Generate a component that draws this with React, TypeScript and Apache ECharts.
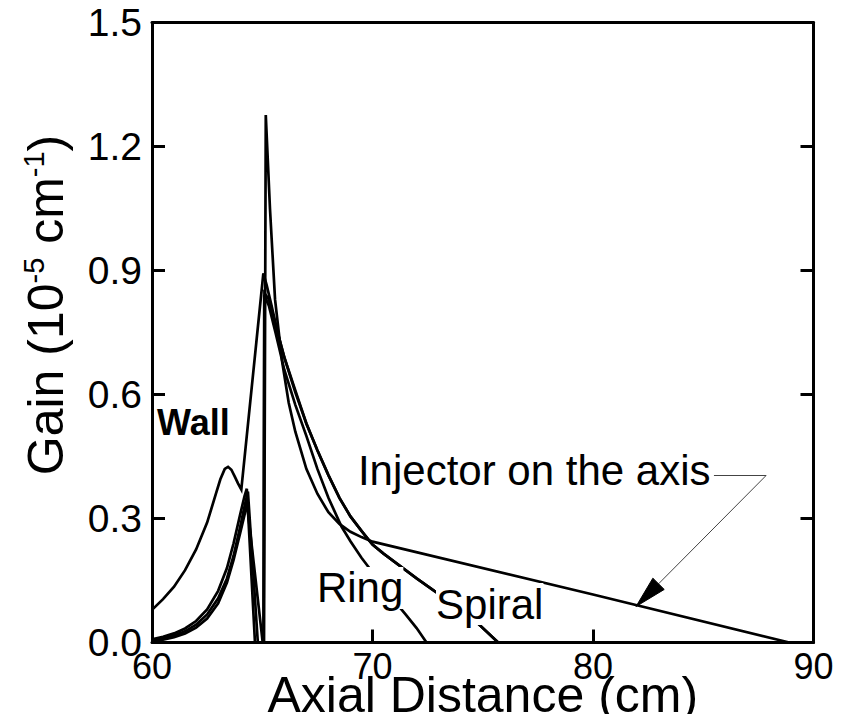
import React, { useEffect, useRef } from "react";
import * as echarts from "echarts";

// ---- data ----
const xTicks = [60, 70, 80, 90];
const yTicks = [0, 0.3, 0.6, 0.9, 1.2, 1.5];

const wallCurve: [number, number][] = [
  [60, 0.079], [60.5, 0.105], [61, 0.135], [61.5, 0.175], [62, 0.225], [62.5, 0.29],
  [62.9, 0.36], [63.1, 0.395], [63.3, 0.42], [63.45, 0.425], [63.6, 0.418], [63.75, 0.402],
  [63.9, 0.385], [64.05, 0.37], [65.05, 0.893], [65.2, 0.865], [65.4, 0.82], [65.7, 0.75],
  [66, 0.69], [66.5, 0.605], [67, 0.53], [67.5, 0.465], [68, 0.405], [68.5, 0.35],
  [69, 0.305], [69.5, 0.27], [70, 0.237], [70.5, 0.215], [71, 0.195], [72, 0.155],
  [72.8, 0.125], [73.5, 0.1], [74, 0.08], [74.7, 0.05], [75.7, 0],
];

const ringCurve: [number, number][] = [
  [60, 0.008], [60.5, 0.014], [61, 0.022], [61.5, 0.034], [62, 0.052], [62.5, 0.08],
  [63, 0.125], [63.4, 0.18], [63.7, 0.24], [64.0, 0.31], [64.2, 0.355], [64.3, 0.372],
  [64.67, 0], [65.06, 0], [65.09, 0.84], [65.3, 0.815], [65.6, 0.75], [66, 0.66],
  [66.5, 0.575], [67, 0.5], [67.5, 0.42], [68, 0.35], [68.6, 0.28], [69, 0.245],
  [69.5, 0.205], [70, 0.17], [70.5, 0.135], [71, 0.1], [71.5, 0.068], [72, 0.035], [72.45, 0],
];

const spiralCurve: [number, number][] = [
  [60, 0.005], [60.5, 0.01], [61, 0.017], [61.5, 0.027], [62, 0.043], [62.5, 0.068],
  [63, 0.107], [63.4, 0.155], [63.7, 0.21], [64.0, 0.28], [64.2, 0.33], [64.35, 0.365],
  [64.8, 0], [65.06, 0], [65.1, 0.845], [65.3, 0.83], [65.6, 0.77], [66, 0.69],
  [66.5, 0.61], [67, 0.53], [67.5, 0.465], [68, 0.405], [68.5, 0.35], [69, 0.305],
  [69.5, 0.27], [70, 0.237], [70.5, 0.215], [71, 0.195], [72, 0.155], [72.8, 0.125],
  [73.5, 0.1], [74, 0.08], [74.7, 0.05], [75.7, 0],
];

const injectorCurve: [number, number][] = [
  [60, 0.003], [60.5, 0.007], [61, 0.013], [61.5, 0.022], [62, 0.036], [62.5, 0.058],
  [63, 0.095], [63.4, 0.145], [63.7, 0.2], [64.0, 0.265], [64.2, 0.31], [64.3, 0.34],
  [65.02, 0], [65.08, 0], [65.16, 1.276], [65.35, 1.05], [65.58, 0.83], [65.9, 0.68],
  [66.2, 0.58], [66.5, 0.51], [67, 0.42], [67.5, 0.36], [68, 0.315], [68.5, 0.287],
  [69, 0.268], [69.5, 0.255], [70, 0.244], [80, 0.116], [88.9, 0],
];

// annotation anchors in data coordinates
const wallLabel = { text: "Wall", x: 60.23, y: 0.532 };
const ringLabel = { text: "Ring", x: 67.48, y: 0.132 };
const spiralLabel = { text: "Spiral", x: 72.88, y: 0.093 };
const injectorLabel = { text: "Injector on the axis", x: 69.34, y: 0.417 };
const leaderCorner: [number, number] = [87.85, 0.404];
const arrowTip: [number, number] = [81.95, 0.087];

const FONT = "'Liberation Sans', Arial, Helvetica, sans-serif";

export default function App() {
  const ref = useRef<HTMLDivElement>(null);

  useEffect(() => {
    if (!ref.current) return;
    const chart = echarts.init(ref.current, null, { renderer: "svg" });

    const lineSeries = (name: string, data: [number, number][]) => ({
      type: "line",
      name,
      data,
      symbol: "none",
      showSymbol: false,
      silent: true,
      clip: true,
      lineStyle: { color: "#000", width: 2.7, join: "miter" },
      z: 3,
    });

    const axisLine = { show: true, onZero: false, lineStyle: { color: "#000", width: 3 } };
    const axisTick = { show: true, inside: true, length: 13, lineStyle: { color: "#000", width: 3 } };

    chart.setOption({
      animation: false,
      backgroundColor: "#fff",
      grid: {
        left: 152,
        right: 29.5,
        top: 22.5,
        bottom: 79.5,
        containLabel: false,
        outerBoundsMode: "none",
      },
      xAxis: [
        {
          type: "value",
          position: "bottom",
          min: xTicks[0],
          max: xTicks[xTicks.length - 1],
          interval: 10,
          axisLine,
          axisTick,
          splitLine: { show: false },
          axisLabel: {
            color: "#000",
            fontSize: 36,
            fontFamily: FONT,
            margin: 9,
            lineHeight: 30,
            showMinLabel: true,
            showMaxLabel: true,
          },
          name: "Axial Distance (cm)",
          nameLocation: "middle",
          nameGap: 27,
          nameMoveOverlap: false,
          nameTextStyle: { color: "#000", fontSize: 50, fontFamily: FONT, lineHeight: 50 },
        },
        {
          type: "value",
          position: "top",
          min: xTicks[0],
          max: xTicks[xTicks.length - 1],
          interval: 10,
          axisLine,
          axisTick: { show: false },
          axisLabel: { show: false },
          splitLine: { show: false },
        },
      ],
      yAxis: [
        {
          type: "value",
          position: "left",
          min: yTicks[0],
          max: yTicks[yTicks.length - 1],
          interval: 0.3,
          axisLine,
          axisTick,
          splitLine: { show: false },
          axisLabel: {
            color: "#000",
            fontSize: 39,
            fontFamily: FONT,
            margin: 10,
            formatter: (v: number) => v.toFixed(1),
          },
        },
        {
          type: "value",
          position: "right",
          min: yTicks[0],
          max: yTicks[yTicks.length - 1],
          interval: 0.3,
          axisLine,
          axisTick,
          axisLabel: { show: false },
          splitLine: { show: false },
        },
      ],
      series: [
        lineSeries("Wall", wallCurve),
        lineSeries("Ring", ringCurve),
        lineSeries("Spiral", spiralCurve),
        lineSeries("Injector on the axis", injectorCurve),
      ],
    });

    const px = (p: [number, number]) => chart.convertToPixel({ gridIndex: 0 }, p) as number[];
    const w = px([wallLabel.x, wallLabel.y]);
    const r = px([ringLabel.x, ringLabel.y]);
    const s = px([spiralLabel.x, spiralLabel.y]);
    const inj = px([injectorLabel.x, injectorLabel.y]);
    const corner = px(leaderCorner);
    const tip = px(arrowTip);

    // arrow head geometry
    const dx = corner[0] - tip[0];
    const dy = corner[1] - tip[1];
    const len = Math.hypot(dx, dy);
    const ux = dx / len, uy = dy / len;
    const headLen = 32, headHalf = 8;
    const bx = tip[0] + ux * headLen, by = tip[1] + uy * headLen;
    const headPts = [
      [tip[0], tip[1]],
      [bx - uy * headHalf, by + ux * headHalf],
      [bx + uy * headHalf, by - ux * headHalf],
    ];

    const textStyle = { fill: "#000", fontFamily: FONT };

    chart.setOption({
      graphic: [
        {
          type: "text",
          x: 46,
          y: 305,
          rotation: Math.PI / 2,
          style: {
            text: "{n|Gain (10}{s|-5}{n| cm}{s|-1}{n|)}",
            align: "center",
            verticalAlign: "middle",
            rich: {
              n: { fontSize: 50, fontFamily: FONT, fill: "#000", lineHeight: 54, verticalAlign: "middle" },
              s: { fontSize: 29, fontFamily: FONT, fill: "#000", lineHeight: 54, verticalAlign: "top" },
            },
          },
        },
        {
          type: "text", x: w[0], y: w[1], z: 10,
          style: { ...textStyle, text: wallLabel.text, fontSize: 36, fontWeight: "bold", align: "left", verticalAlign: "middle" },
        },
        {
          type: "text", x: r[0], y: r[1], z: 10,
          style: { ...textStyle, text: ringLabel.text, fontSize: 42, align: "left", verticalAlign: "middle", backgroundColor: "#fff" },
        },
        {
          type: "text", x: s[0], y: s[1], z: 10,
          style: { ...textStyle, text: spiralLabel.text, fontSize: 42, align: "left", verticalAlign: "middle", backgroundColor: "#fff" },
        },
        {
          type: "text", x: inj[0], y: inj[1], z: 10,
          style: { ...textStyle, text: injectorLabel.text, fontSize: 42, align: "left", verticalAlign: "middle" },
        },
        {
          type: "polyline", z: 10,
          shape: { points: [[inj[0] + 356, corner[1]], [corner[0], corner[1]], [bx, by]] },
          style: { stroke: "#444", lineWidth: 1, fill: null },
        },
        {
          type: "polygon", z: 10,
          shape: { points: headPts },
          style: { fill: "#000", stroke: "#000", lineWidth: 1 },
        },
      ],
    });

    return () => chart.dispose();
  }, []);

  return <div ref={ref} style={{ width: 843, height: 722, margin: -8 }} />;
}
